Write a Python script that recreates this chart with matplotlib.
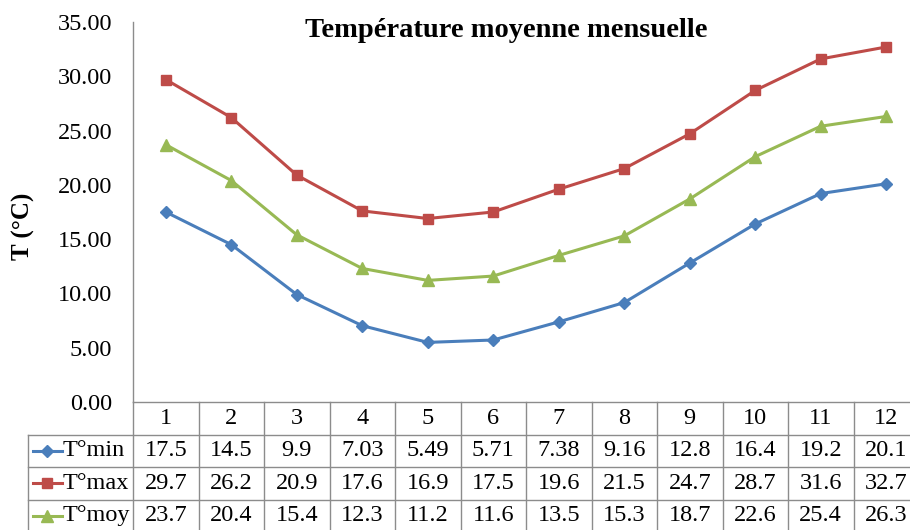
import matplotlib
matplotlib.use("Agg")
import matplotlib.pyplot as plt

# Monthly temperatures (°C)
months = list(range(1, 13))
t_min = [17.5, 14.5, 9.9, 7.03, 5.49, 5.71, 7.38, 9.16, 12.8, 16.4, 19.2, 20.1]
t_max = [29.7, 26.2, 20.9, 17.6, 16.9, 17.5, 19.6, 21.5, 24.7, 28.7, 31.6, 32.7]
t_moy = [23.7, 20.4, 15.4, 12.3, 11.2, 11.6, 13.5, 15.3, 18.7, 22.6, 25.4, 26.3]
series_names = ["T°min", "T°max", "T°moy"]
y_ticks = [0, 5, 10, 15, 20, 25, 30, 35]

colors = ["#4A7EBB", "#BE4B48", "#98B954"]
markers = ["D", "s", "^"]
msizes = [6.5, 7.5, 8.5]
grid_c = "#8C8C8C"
fs = 17.5
line_w = 2.2

plt.rcParams["font.family"] = ["Liberation Serif", "DejaVu Serif"]

W, H = 910, 530
fig = plt.figure(figsize=(W / 100, H / 100), dpi=100)


def box(l, t, r, b):
    return [l / W, 1 - b / H, (r - l) / W, (b - t) / H]


# plot area
ax = fig.add_axes(box(133, 22, 919, 402))
ax.set_xlim(0.5, 12.5)
ax.set_ylim(0, 35)
for s in ["top", "right", "bottom"]:
    ax.spines[s].set_visible(False)
ax.spines["left"].set_color(grid_c)
ax.spines["left"].set_linewidth(1.0)
ax.set_xticks([])
ax.set_yticks(y_ticks)
ax.set_yticklabels([f"{v:.2f}" for v in y_ticks], fontsize=fs)
ax.tick_params(axis="y", length=0, pad=15)

all_series = [t_min, t_max, t_moy]
for vals, c, m, ms in zip(all_series, colors, markers, msizes):
    ax.plot(months, vals, color=c, lw=line_w, marker=m, ms=ms,
            markerfacecolor=c, markeredgecolor=c, clip_on=False)

# data table under the plot
tb = fig.add_axes(box(133, 402, 919, 532))
tb.set_xlim(0.5, 12.5)
tb.set_ylim(4, 0)
tb.axis("off")


def px_to_x(px):
    return 0.5 + (px - 133) / 65.5


left_x = px_to_x(28)
lw_t = 1.0
tb.plot([0.5, 12.5], [0, 0], color=grid_c, lw=lw_t, clip_on=False)
for k in range(13):
    tb.plot([0.5 + k, 0.5 + k], [0, 4], color=grid_c, lw=lw_t, clip_on=False)
for r in (1, 2, 3, 4):
    tb.plot([left_x, 12.5], [r, r], color=grid_c, lw=lw_t, clip_on=False)
tb.plot([left_x, left_x], [1, 4], color=grid_c, lw=lw_t, clip_on=False)

for mth in months:
    tb.text(mth, 0.5, str(mth), ha="center", va="center", fontsize=fs)

for i, (name, vals, c, m, ms) in enumerate(zip(series_names, all_series,
                                                 colors, markers, msizes)):
    yc = i + 1.5
    tb.plot([px_to_x(33), px_to_x(62)], [yc, yc], color=c, lw=line_w,
            clip_on=False)
    tb.plot([px_to_x(47.5)], [yc], marker=m, ms=ms - 0.5, color=c,
            clip_on=False)
    tb.text(px_to_x(63), yc, name, ha="left", va="center", fontsize=fs)
    for mth, v in zip(months, vals):
        tb.text(mth, yc, f"{v:g}", ha="center", va="center", fontsize=fs)

fig.text(506 / W, 1 - 37 / H, "Température moyenne mensuelle",
         ha="center", va="baseline", fontsize=20.5, fontweight="bold")
fig.text(23 / W, 1 - 226 / H, "T (°C)", ha="center", va="center",
         rotation=90, fontsize=18, fontweight="bold")

fig.savefig("out.png", dpi=100)
